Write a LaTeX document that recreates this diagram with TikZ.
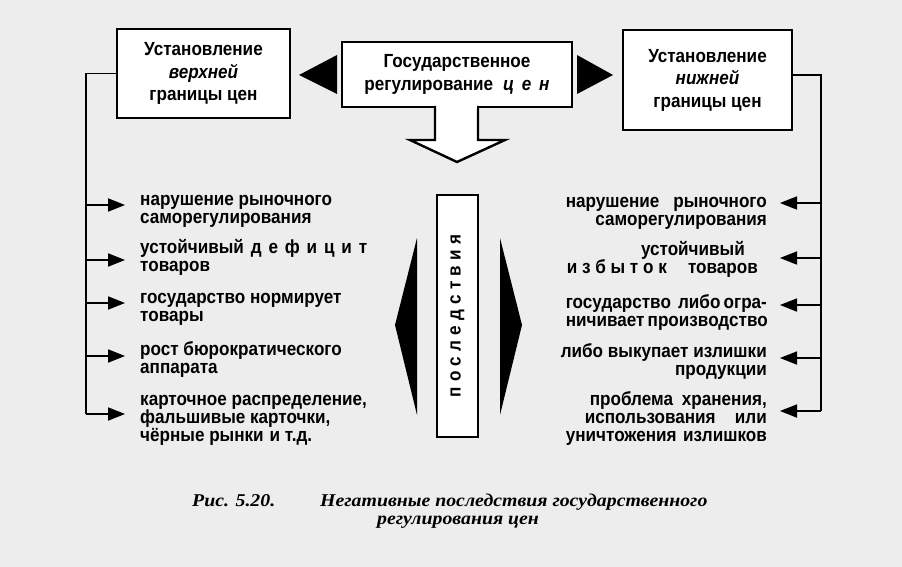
\documentclass[tikz,border=0pt]{standalone}
\usepackage{fontspec}
\setmainfont{Liberation Sans}[FakeStretch=0.9]
\newfontfamily\capfont{Liberation Serif}[FakeStretch=1.1]
\usetikzlibrary{arrows.meta}
\begin{document}
\begin{tikzpicture}[x=1pt,y=-1pt,
  frame/.style={draw=black, line width=2.6pt, fill=white, inner sep=0pt, align=center,
    font=\bfseries\fontsize{19}{22.5}\selectfont},
  itemL/.style={inner sep=0pt, anchor=north west, align=left, font=\bfseries\fontsize{19}{18}\selectfont},
  itemR/.style={inner sep=0pt, anchor=north east, align=right, font=\bfseries\fontsize{19}{18}\selectfont},
  trunk/.style={line width=1.8pt},
  arr/.style={line width=1.8pt, -{Triangle[length=17pt,width=13pt]}},
  wedge/.style={fill=black, draw=none},
  captxt/.style={inner sep=0pt, anchor=base west, font=\capfont\bfseries\itshape\fontsize{18}{18}\selectfont}
]
\useasboundingbox[fill=black!7] (0,0) rectangle (902,567);

% top boxes
\node[frame, minimum width=173pt, minimum height=89pt] (LB) at (203.5,73.5)
  {Установление\\ \textit{верхней}\\ границы цен};
\node[frame, minimum width=230pt, minimum height=65pt] (CB) at (457,74.5)
  {Государственное\\ регулирование\hspace{10pt}\textit{ц\hspace{3pt} е\hspace{3pt} н}};
\node[frame, minimum width=169pt, minimum height=100pt] (RB) at (707.5,80)
  {Установление\\ \textit{нижней}\\ границы цен};

% small wedges between boxes
\fill[wedge] (299,75) -- (337,55) -- (337,94) -- cycle;
\fill[wedge] (613,75) -- (577,55) -- (577,94) -- cycle;

% hollow down arrow
\draw[line width=2.4pt, fill=white, line join=miter]
  (435,106) -- (435,140) -- (410,140) -- (457,162) -- (505,140) -- (478,140) -- (478,106);
\fill[white] (436.5,104) rectangle (476.5,109);

% consequences box
\node[draw=black, line width=2.4pt, fill=white, minimum width=41pt, minimum height=242pt, inner sep=0pt] (PB) at (457.5,316) {};
\node[rotate=90, inner sep=0pt, font=\bfseries\fontsize{19}{19}\selectfont] (PT) at (PB.center) {\makebox[163pt][s]{п о с л е д с т в и я}};

% big wedges
\fill[wedge] (395,325) -- (417,238) -- (417,415) -- cycle;
\fill[wedge] (522,325) -- (500,238) -- (500,415) -- cycle;

% left items
\node[itemL] (L1) at (140,190) {\rule{0pt}{15pt}нарушение рыночного\\ саморегулирования};
\node[itemL] (L2) at (140,238) {\rule{0pt}{15pt}\makebox[227pt][s]{устойчивый д е ф и ц и т}\\ товаров};
\node[itemL] (L3) at (140,288) {\rule{0pt}{15pt}государство нормирует\\ товары};
\node[itemL] (L4) at (140,340) {\rule{0pt}{15pt}рост бюрократического\\ аппарата};
\node[itemL] (L5) at (140,390) {\rule{0pt}{15pt}карточное распределение,\\ фальшивые карточки,\\ чёрные рынки\hspace{6pt}и т.д.};

% right items
\node[itemR] (R1) at (767,192) {\rule{0pt}{15pt}\makebox[201pt][s]{нарушение\hspace{4pt} рыночного}\\ саморегулирования};
\node[itemR] (R2) at (767,240) {\rule{0pt}{15pt}устойчивый\hspace*{22pt}\\ \makebox[191pt][s]{и з б ы т о к\hfill товаров}\hspace*{9pt}};
\node[itemR] (R3) at (767,293) {\rule{0pt}{15pt}\makebox[201pt][s]{государство\hspace{4pt} либо огра-}\\ \makebox[201pt][s]{ничивает производство}};
\node[itemR] (R4) at (767,342) {\rule{0pt}{15pt}либо выкупает излишки\\ продукции};
\node[itemR] (R5) at (767,390) {\rule{0pt}{15pt}\makebox[177pt][s]{проблема хранения,}\\ \makebox[182pt][s]{использования или}\\ \makebox[201pt][s]{уничтожения излишков}};

% left trunk and arrows
\coordinate (tl) at (86,414);
\coordinate (a1) at (125,205);
\coordinate (a2) at (125,260);
\coordinate (a3) at (125,303);
\coordinate (a4) at (125,356);
\coordinate (a5) at (125,414);
\draw[trunk] (LB.west) -| (tl);
\foreach \i in {1,...,5} \draw[arr] (a\i -| tl) -- (a\i);

% right trunk and arrows
\coordinate (tr) at (821,411);
\coordinate (b1) at (780,203);
\coordinate (b2) at (780,258);
\coordinate (b3) at (780,305);
\coordinate (b4) at (780,358);
\coordinate (b5) at (780,411);
\draw[trunk] ([yshift=5pt]RB.east) -| (tr);
\foreach \i in {1,...,5} \draw[arr] (b\i -| tr) -- (b\i);

% caption
\node[captxt] (C0) at (192,506) {Рис. 5.20.};
\node[captxt] (C1) at (320,506) {Негативные последствия государственного};
\node[captxt] (C2) at (377,524) {регулирования цен};
\end{tikzpicture}
\end{document}
